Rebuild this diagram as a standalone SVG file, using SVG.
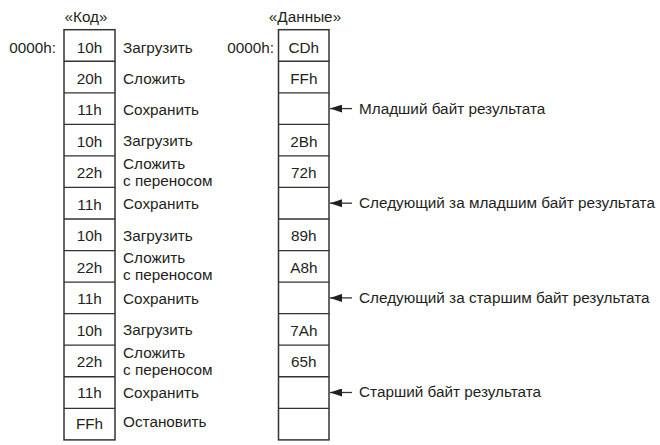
<svg xmlns="http://www.w3.org/2000/svg" width="660" height="445" viewBox="0 0 660 445">
<style>
text{font-family:"Liberation Sans",Arial,sans-serif;font-size:15.3px;fill:#231f20}
.c{text-anchor:middle}
.e{text-anchor:end}
.box{fill:#fff;stroke:#333;stroke-width:1.5}
.ln{stroke:#333;stroke-width:1.3;fill:none}
</style>
<defs>
<marker id="ah" viewBox="0 0 12 8" refX="12" refY="4" markerWidth="12" markerHeight="8" markerUnits="userSpaceOnUse" orient="auto">
<path d="M0,0 L12,4 L0,8 Z" fill="#231f20"/>
</marker>
</defs>
<rect width="660" height="445" fill="#fff"/>
<g id="headers">
<text class="c" x="86" y="21.5">«Код»</text>
<text class="c" x="305" y="21.5">«Данные»</text>
<text class="e" x="56" y="52.5">0000h:</text>
<text class="e" x="274" y="52.5">0000h:</text>
</g>
<g id="code">
<rect class="box" x="64" y="29.7" width="51" height="410.2"/>
<path class="ln" d="M64,61.25H115M64,92.8H115M64,124.35H115M64,155.9H115M64,187.45H115M64,219H115M64,250.55H115M64,282.1H115M64,313.65H115M64,345.2H115M64,376.75H115M64,408.3H115"/>
<g class="c">
<text x="89.5" y="52.5">10h</text>
<text x="89.5" y="84">20h</text>
<text x="89.5" y="115">11h</text>
<text x="89.5" y="146.7">10h</text>
<text x="89.5" y="178">22h</text>
<text x="89.5" y="209.5">11h</text>
<text x="89.5" y="241">10h</text>
<text x="89.5" y="272.5">22h</text>
<text x="89.5" y="304">11h</text>
<text x="89.5" y="335.5">10h</text>
<text x="89.5" y="367">22h</text>
<text x="89.5" y="398">11h</text>
<text x="89.5" y="429">FFh</text>
</g>
<g>
<text x="123" y="52.5">Загрузить</text>
<text x="123" y="84">Сложить</text>
<text x="123" y="115">Сохранить</text>
<text x="123" y="146">Загрузить</text>
<text x="123" y="168.5">Сложить</text>
<text x="123" y="185.7">с переносом</text>
<text x="123" y="209">Сохранить</text>
<text x="123" y="240.5">Загрузить</text>
<text x="123" y="263">Сложить</text>
<text x="123" y="280.2">с переносом</text>
<text x="123" y="303.5">Сохранить</text>
<text x="123" y="335">Загрузить</text>
<text x="123" y="357.5">Сложить</text>
<text x="123" y="374.7">с переносом</text>
<text x="123" y="397.7">Сохранить</text>
<text x="123" y="426.5">Остановить</text>
</g>
</g>
<g id="data">
<rect class="box" x="278.5" y="29.7" width="50.5" height="410.2"/>
<path class="ln" d="M278.5,61.25H329M278.5,92.8H329M278.5,124.35H329M278.5,155.9H329M278.5,187.45H329M278.5,219H329M278.5,250.55H329M278.5,282.1H329M278.5,313.65H329M278.5,345.2H329M278.5,376.75H329M278.5,408.3H329"/>
<g class="c">
<text x="303.8" y="52.5">CDh</text>
<text x="303.8" y="84">FFh</text>
<text x="303.8" y="146.7">2Bh</text>
<text x="303.8" y="178">72h</text>
<text x="303.8" y="241">89h</text>
<text x="303.8" y="272.5">A8h</text>
<text x="303.8" y="335.5">7Ah</text>
<text x="303.8" y="367">65h</text>
</g>
</g>
<g id="connectors">
<line class="ln" x1="352" y1="108.6" x2="330" y2="108.6" marker-end="url(#ah)"/>
<line class="ln" x1="352" y1="203.2" x2="330" y2="203.2" marker-end="url(#ah)"/>
<line class="ln" x1="352" y1="297.9" x2="330" y2="297.9" marker-end="url(#ah)"/>
<line class="ln" x1="352" y1="392.5" x2="330" y2="392.5" marker-end="url(#ah)"/>
</g>
<g id="notes">
<text x="359" y="113.5">Младший байт результата</text>
<text x="359" y="208">Следующий за младшим байт результата</text>
<text x="359" y="302.7">Следующий за старшим байт результата</text>
<text x="359" y="397.3">Старший байт результата</text>
</g>
</svg>
